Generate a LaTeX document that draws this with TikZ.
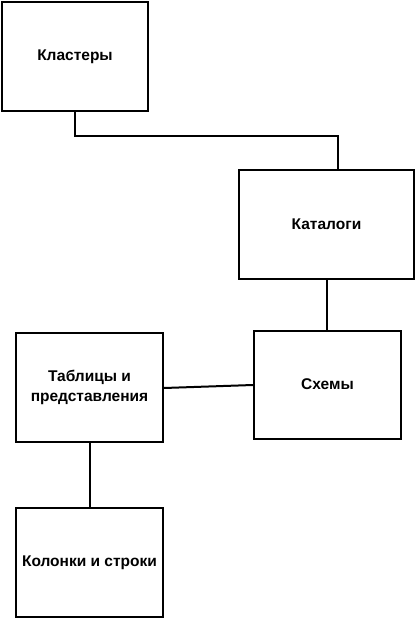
\documentclass[tikz,border=0pt]{standalone}
\usepackage{fontspec}
\setmainfont{Liberation Sans}
\begin{document}
\begin{tikzpicture}[x=1pt,y=-1pt,
  box/.style={draw=black,line width=2pt,fill=white,inner sep=0pt,align=center,font=\bfseries\fontsize{15.5}{20}\selectfont},
  link/.style={draw=black,line width=2pt}]
\useasboundingbox (0,0) rectangle (417,620);
\node[box,minimum width=146pt,minimum height=109pt] (clusters) at (75,56.5) {Кластеры};
\node[box,minimum width=175pt,minimum height=109pt] (catalogs) at (326.5,224.5) {Каталоги};
\node[box,minimum width=147pt,minimum height=108pt] (schemas) at (327.5,384.5) {Схемы};
\node[box,minimum width=147pt,minimum height=109pt] (tables) at (89.5,387.5) {Таблицы и\\представления};
\node[box,minimum width=147pt,minimum height=109pt] (columns) at (89.5,562.5) {Колонки и строки};
\coordinate (c1) at (75,136);
\coordinate (c2) at (338,136);
\draw[link] (clusters.south) -- (c1) -- (c2) -- (catalogs.north -| c2);
\draw[link] (catalogs.south -| 327,0) -- (schemas.north -| 327,0);
\draw[link] (tables.east |- 0,388) -- (schemas.west |- 0,385);
\draw[link] (tables.south) -- (columns.north);
\end{tikzpicture}
\end{document}
